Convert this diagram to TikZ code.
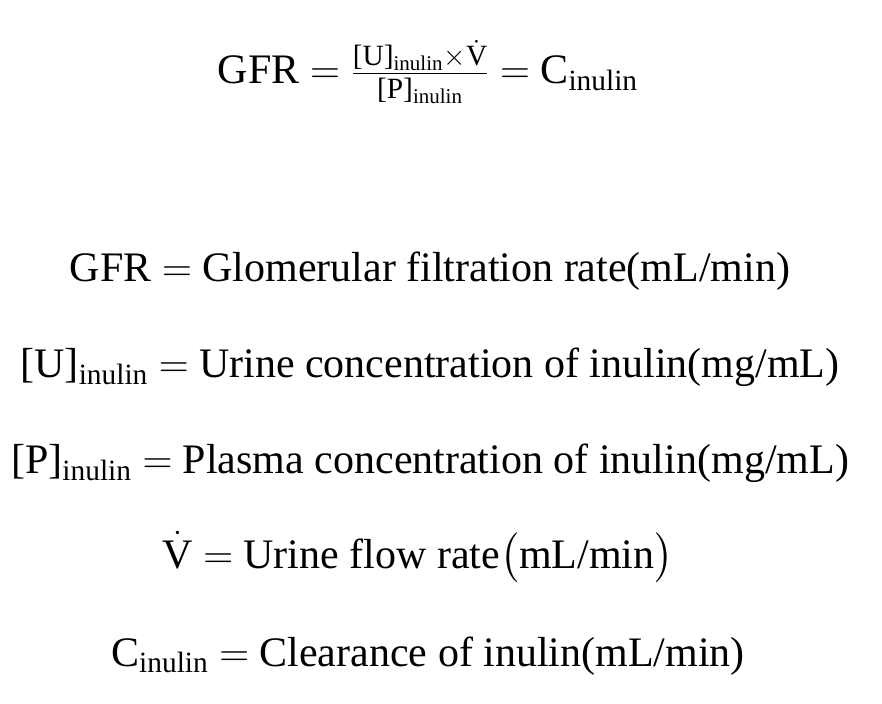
\documentclass[tikz,border=0pt]{standalone}
\usepackage{amsmath}
\usepackage{fontspec}
\setmainfont{Liberation Serif}
\begin{document}
\begin{tikzpicture}[x=1pt,y=1pt,
  eq/.style={inner sep=0pt,anchor=base,font=\fontsize{21}{25}\selectfont}]
\useasboundingbox (0,0) rectangle (441,-352);
\node[eq] (f) at (214,-42) {GFR $=$ $\frac{\text{[U]}_{\text{inulin}}\times\dot{\text{V}}}{\text{[P]}_{\text{inulin}}}$ $=$ C\textsubscript{inulin}};
\node[eq] (a) at (215,-141) {GFR $=$ Glomerular filtration rate(mL/min)};
\node[eq] (b) at (215,-189) {[U]\textsubscript{inulin} $=$ Urine concentration of inulin(mg/mL)};
\node[eq] (c) at (215,-237) {[P]\textsubscript{inulin} $=$ Plasma concentration of inulin(mg/mL)};
\node[eq] (d) at (209,-284) {$\dot{\text{V}}$ $=$ Urine flow rate$\bigl($mL/min$\bigr)$};
\node[eq] (e) at (214,-333) {C\textsubscript{inulin} $=$ Clearance of inulin(mL/min)};
\end{tikzpicture}
\end{document}
